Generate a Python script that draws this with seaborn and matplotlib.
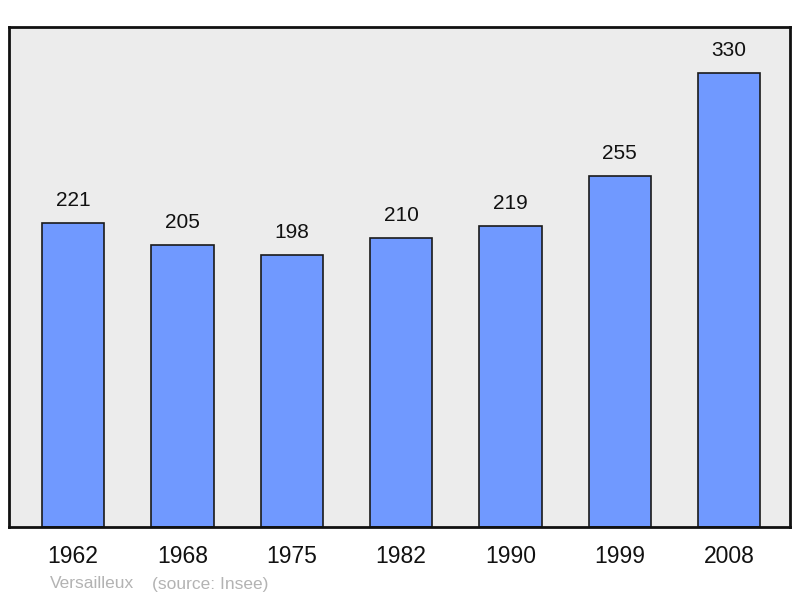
import matplotlib
matplotlib.use("Agg")
import matplotlib.pyplot as plt
import seaborn as sns
import pandas as pd

# Population data
years = ["1962", "1968", "1975", "1982", "1990", "1999", "2008"]
population = [221, 205, 198, 210, 219, 255, 330]

df = pd.DataFrame({"year": years, "pop": population})

sns.set_style("white")
plt.rcParams['font.family'] = ['Liberation Sans', 'DejaVu Sans']

fig = plt.figure(figsize=(8, 5.98), dpi=100)
ax = fig.add_axes([9 / 800, 71 / 598, 781 / 800, 500 / 598])
ax.set_facecolor("#ececec")

sns.barplot(data=df, x="year", y="pop", color="#7099ff", saturation=1,
            width=0.57, edgecolor="#1a1a1a", linewidth=1.2, ax=ax)

for i, v in enumerate(population):
    ax.annotate(str(v), (i, v), xytext=(0, 16), textcoords="offset points",
                ha="center", va="center", fontsize=15, color="#111111")

ax.set_xlim(-0.586, 6.558)
ax.set_ylim(0, 363.4)
ax.set_yticks([])
ax.set_xlabel("")
ax.set_ylabel("")
ax.tick_params(axis="x", length=0, labelsize=16.5, pad=13, colors="#111111")
for s in ax.spines.values():
    s.set_color("#111111")
    s.set_linewidth(2)

fig.text(50 / 800, 1 - 584 / 598, "Versailleux", fontsize=12.5, color="#b3b3b3",
         va="center", ha="left")
fig.text(152 / 800, 1 - 584 / 598, "(source: Insee)", fontsize=12.5, color="#b3b3b3",
         va="center", ha="left")

fig.savefig("out.png", dpi=100)
